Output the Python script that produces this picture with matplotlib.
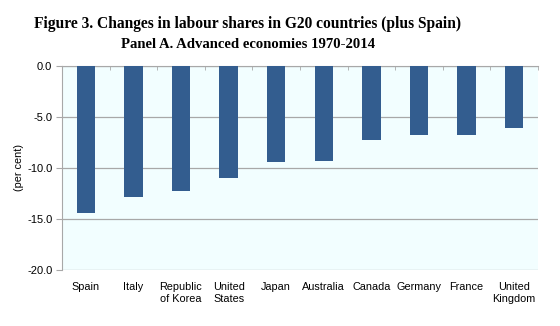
import matplotlib
matplotlib.use("Agg")
import matplotlib.pyplot as plt
import numpy as np

countries = ["Spain", "Italy", "Republic\nof Korea", "United\nStates", "Japan",
             "Australia", "Canada", "Germany", "France", "United\nKingdom"]
changes = [-14.4, -12.9, -12.25, -10.95, -9.4, -9.3, -7.3, -6.8, -6.75, -6.1]
yticks = [0.0, -5.0, -10.0, -15.0, -20.0]

fig = plt.figure(figsize=(5.6, 3.26), dpi=100)
ax = fig.add_axes([62/560, 1 - 270/326, 476/560, (270 - 65.7)/326])
ax.set_facecolor("#F2FEFF")

x = np.arange(len(countries))
ax.bar(x, changes, width=0.39, color="#335D8F", zorder=3)

ax.set_xlim(-0.5, len(countries) - 0.5)
ax.set_ylim(-20, 0)
ax.set_yticks(yticks)
ax.set_yticklabels([f"{v:.1f}" for v in yticks], family="Liberation Sans", fontsize=8)
ax.yaxis.grid(True, color="#A8A8A8", linewidth=0.9, zorder=1)

ax.set_xticks(x)
ax.set_xticklabels(countries, family="Liberation Sans", fontsize=7.8, linespacing=1.15)
ax.tick_params(axis="x", length=0, pad=9)
ax.tick_params(axis="y", length=4, color="#A8A8A8", pad=3)

# category boundary ticks along the zero line
ax.set_xticks(np.arange(-0.5, len(countries), 1.0), minor=True)
ax.tick_params(axis="x", which="minor", top=True, bottom=False, direction="in",
               length=3, color="#A8A8A8")

for side in ("right", "bottom"):
    ax.spines[side].set_visible(False)
ax.spines["left"].set_color("#A8A8A8")
ax.spines["top"].set_color("#A8A8A8")

ax.set_ylabel("(per cent)", family="Liberation Sans", fontsize=7.8, labelpad=2)

fig.text(248/560, 1 - 24/326, "Figure 3. Changes in labour shares in G20 countries (plus Spain)",
         ha="center", va="center", family="Liberation Serif", fontweight="bold", fontsize=11.2)
fig.text(248/560, 1 - 44/326, "Panel A. Advanced economies 1970-2014",
         ha="center", va="center", family="Liberation Serif", fontweight="bold", fontsize=10.6)

fig.savefig("out.png", dpi=100, facecolor="white")
